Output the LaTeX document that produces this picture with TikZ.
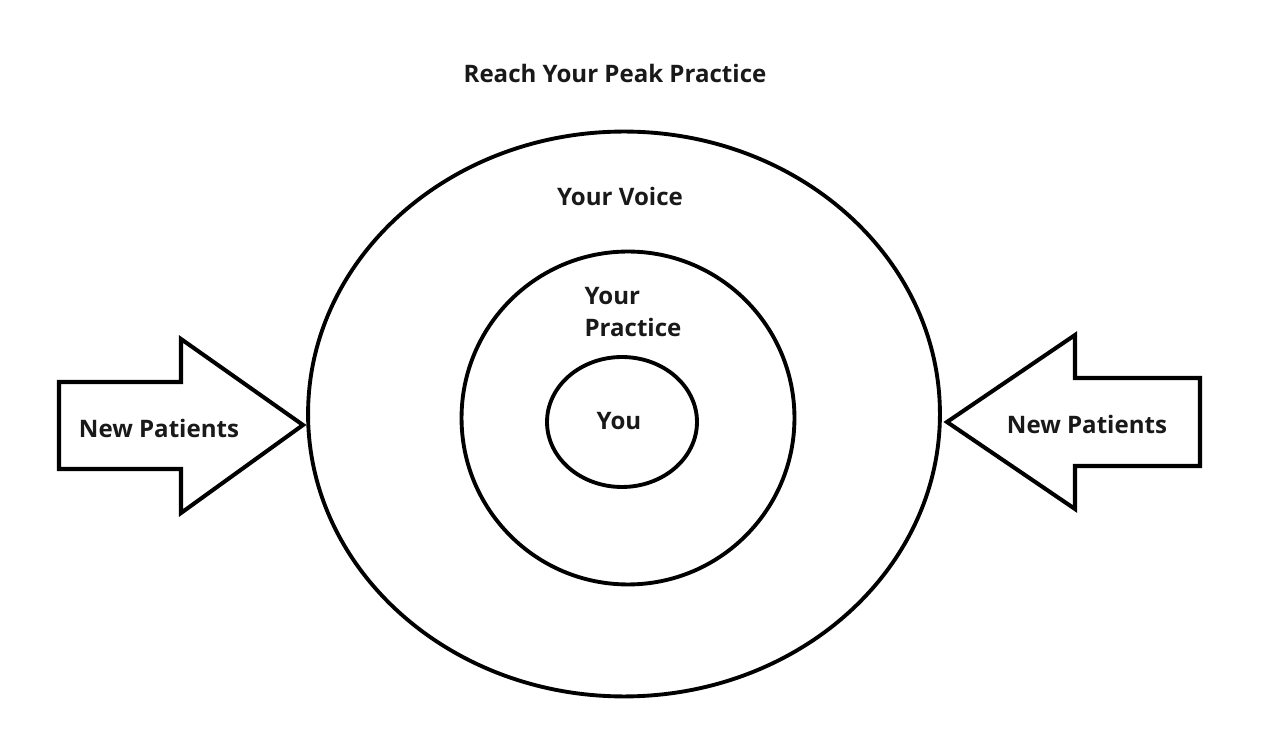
\documentclass[tikz,border=0pt]{standalone}
\usepackage{fontspec}
\setmainfont{Open Sans}
\usepackage{tikz}
\usetikzlibrary{shapes.geometric}
\tikzstyle{ring} = [ellipse, draw=black, line width=2.2pt, inner sep=0pt]
\tikzstyle{ringtext} = [font=\bfseries\fontsize{13.7}{18}\selectfont, text=black!90, align=left]
\tikzstyle{bigarrow} = [draw=black, line width=2.3pt, line join=miter, fill=white]

\begin{document}
\begin{tikzpicture}[x=0.02cm, y=-0.02cm]
\useasboundingbox (0,0) rectangle (1275,756);

\node(title)[ringtext] at (615,73){Reach Your Peak Practice};

\node(voice)[ring, minimum width=12.64cm, minimum height=11.3cm] at (624,414){};
\node(practice)[ring, minimum width=6.66cm, minimum height=6.66cm] at (628,418){};
\node(you)[ring, minimum width=3.0cm, minimum height=2.6cm] at (622,422){};

\node(voicetext)[ringtext] at (620,196){Your Voice};
\node(practicetext)[ringtext] at (633,312){Your\\Practice};
\node(youtext)[ringtext] at (619,421){You};

\draw[bigarrow] (59,382) -- (181,382) -- (181,339) -- (303,425) -- (181,513)
-- (181,469) -- (59,469) -- cycle;
\draw[bigarrow] (1200,378) -- (1075,378) -- (1075,335) -- (947,422) -- (1075,509)
-- (1075,466) -- (1200,466) -- cycle;

\node(leftin)[ringtext] at (159,428){New Patients};
\node(rightin)[ringtext] at (1087,424){New Patients};

\end{tikzpicture}
\end{document}
